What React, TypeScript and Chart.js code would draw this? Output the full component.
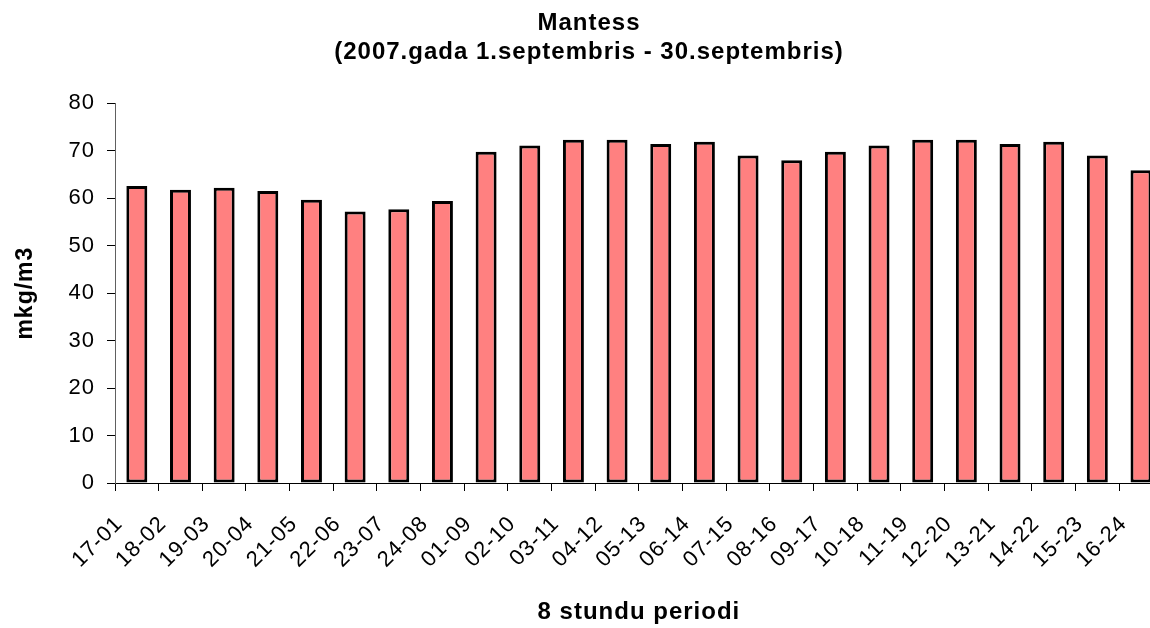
import { useEffect, useRef } from 'react';
import { Chart, registerables } from 'chart.js';

Chart.register(...registerables);

const categories = [
  '17-01', '18-02', '19-03', '20-04', '21-05', '22-06', '23-07', '24-08',
  '01-09', '02-10', '03-11', '04-12', '05-13', '06-14', '07-15', '08-16',
  '09-17', '10-18', '11-19', '12-20', '13-21', '14-22', '15-23', '16-24',
];

const values = [
  62.6, 61.8, 62.2, 61.5, 59.7, 57.2, 57.7, 59.4,
  69.8, 71.1, 72.3, 72.3, 71.4, 71.9, 69.0, 68.0,
  69.8, 71.1, 72.3, 72.3, 71.4, 71.9, 69.0, 65.9,
];

const titleLines = ['Mantess', '(2007.gada 1.septembris - 30.septembris)'];
const yAxisTitle = 'mkg/m3';
const xAxisTitle = '8 stundu periodi';
const yMin = 0;
const yMax = 80;
const yStep = 10;

const FONT = 'Liberation Sans, Arial, sans-serif';

const spacingPlugin = {
  id: 'letterSpacing',
  beforeDraw(chart: any) {
    try {
      chart.ctx.letterSpacing = '1px';
    } catch (e) {
      /* ignore */
    }
  },
};

export default function App() {
  const ref = useRef<HTMLCanvasElement>(null);

  useEffect(() => {
    if (!ref.current) return;
    const chart = new Chart(ref.current, {
      type: 'bar',
      data: {
        labels: categories,
        datasets: [
          {
            data: values,
            backgroundColor: '#FF8080',
            borderColor: '#000000',
            borderWidth: 3,
            borderSkipped: false,
            categoryPercentage: 1,
            barPercentage: 0.48,
          },
        ],
      },
      plugins: [spacingPlugin],
      options: {
        animation: false,
        responsive: false,
        devicePixelRatio: 1,
        layout: { padding: { left: 14, right: 16, top: 0, bottom: 0 } },
        plugins: {
          legend: { display: false },
          tooltip: { enabled: false },
          title: {
            display: true,
            text: titleLines,
            color: '#000000',
            font: { family: FONT, size: 24, weight: 'bold', lineHeight: 1.2 },
            padding: { top: 9.3, bottom: 36.4 },
          },
        },
        scales: {
          x: {
            grid: {
              display: true,
              drawOnChartArea: false,
              drawTicks: true,
              tickLength: 8,
              color: '#000000',
              offset: true,
            },
            border: { display: true, color: '#000000', width: 1 },
            ticks: {
              autoSkip: false,
              minRotation: 45,
              maxRotation: 45,
              color: '#000000',
              font: { family: FONT, size: 22 },
              padding: 20,
              labelOffset: -17.5,
            },
            title: {
              display: true,
              text: xAxisTitle,
              color: '#000000',
              font: { family: FONT, size: 24, weight: 'bold', lineHeight: 1.2 },
              padding: { top: 0, bottom: 1.6 },
            },
            afterFit: (s: any) => {
              s.height = 145;
            },
          },
          y: {
            min: yMin,
            max: yMax,
            ticks: {
              stepSize: yStep,
              color: '#000000',
              font: { family: FONT, size: 22 },
              padding: 12,
            },
            grid: {
              display: true,
              drawOnChartArea: false,
              drawTicks: true,
              tickLength: 8,
              color: '#000000',
            },
            border: { display: true, color: '#606060', width: 1 },
            title: {
              display: true,
              text: yAxisTitle,
              color: '#000000',
              font: { family: FONT, size: 23, weight: 'bold', lineHeight: 1 },
              padding: { top: 0, bottom: 0 },
            },
            afterFit: (s: any) => {
              s.width = 101;
            },
          },
        },
      },
    });
    return () => chart.destroy();
  }, []);

  return (
    <div
      style={{
        position: 'fixed',
        left: 0,
        top: 0,
        width: 1150,
        height: 628,
        overflow: 'hidden',
        background: '#ffffff',
      }}
    >
      <canvas
        ref={ref}
        width={1180}
        height={628}
        style={{ display: 'block', width: 1180, height: 628 }}
      />
    </div>
  );
}
